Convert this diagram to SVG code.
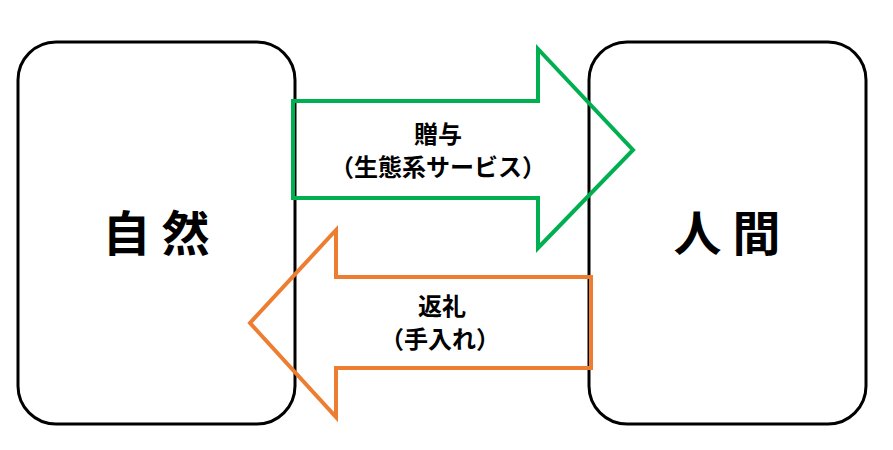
<svg xmlns="http://www.w3.org/2000/svg" width="893" height="450" viewBox="0 0 893 450">
<style>
.box{fill:#fff;stroke:#000;stroke-width:3}
.big{font-family:"Noto Sans CJK JP","Noto Sans CJK SC",sans-serif;font-size:48px;font-weight:bold;fill:#000;text-anchor:middle}
.lbl{font-family:"Noto Sans CJK JP","Noto Sans CJK SC",sans-serif;font-size:24px;font-weight:bold;fill:#000;text-anchor:middle}
.arr{fill:none;stroke-width:4;stroke-linejoin:miter}
</style>
<rect width="893" height="450" fill="#fff"/>
<g id="nature">
<rect class="box" x="18" y="42" width="277" height="382" rx="38" ry="38"/>
<text class="big" x="156" y="251">自 然</text>
</g>
<g id="human">
<rect class="box" x="589" y="42" width="277" height="382" rx="38" ry="38"/>
<text class="big" x="727" y="251">人 間</text>
</g>
<g id="connectors">
<g id="gift">
<path class="arr" stroke="#00B050" d="M293,101 H538 V49 L633,150 L538,248 V198 H293 Z"/>
<text class="lbl" x="438" y="143">贈与</text>
<text class="lbl" x="438" y="176">（生態系サービス）</text>
</g>
<g id="return">
<path class="arr" stroke="#ED7D31" d="M591,277 H336 V230 L250,323 L336,417 V368 H591 Z"/>
<text class="lbl" x="442" y="315">返礼</text>
<text class="lbl" x="440" y="348">（手入れ）</text>
</g>
</g>
</svg>
